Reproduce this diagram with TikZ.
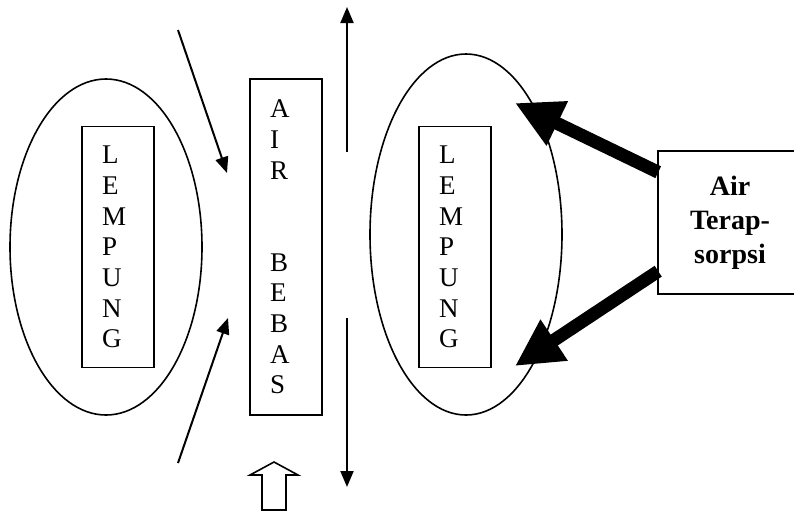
\documentclass[tikz,border=0pt]{standalone}
\usepackage{fontspec}
\setmainfont{Liberation Serif}
\usetikzlibrary{arrows.meta,shapes.geometric,calc}
\begin{document}
\begin{tikzpicture}[x=1pt,y=-1pt,
  oval/.style={draw, line width=1.6pt, ellipse, inner sep=0pt},
  letterbox/.style={draw, line width=1.6pt, minimum width=72pt, minimum height=241pt, inner sep=0pt, text width=32pt, align=left, font=\fontsize{27}{30.7}\selectfont},
  thinarrow/.style={line width=2pt, -{Triangle[length=16pt,width=13pt]}},
  thickarrow/.style={line width=13pt, -{Triangle[length=47pt,width=46pt]}},
]
\useasboundingbox (0,0) rectangle (794,515);
% left clay
\node[oval, minimum width=192pt, minimum height=336pt] (lov) at (106,247) {};
\node[letterbox] (lbox) at (118,247) {L\\E\\M\\P\\U\\N\\G};
% free water
\node[letterbox, minimum height=336pt] (fbox) at (286,247) {A\\I\\R\\[61.4pt]B\\E\\B\\A\\S};
% right clay
\node[oval, minimum width=192pt, minimum height=361pt] (rov) at (466,234.5) {};
\node[letterbox] (rbox) at (455,247) {L\\E\\M\\P\\U\\N\\G};
% adsorbed water
\node[draw, line width=1.6pt, minimum width=144pt, minimum height=143pt, inner sep=0pt, align=center, font=\fontsize{28}{34}\selectfont\bfseries] (abox) at (730,222.5) {Air\\Terap-\\sorpsi};
% thin arrows
\coordinate (a1s) at (178,30);  \coordinate (a1e) at (227,173);
\coordinate (a2s) at (178,463); \coordinate (a2e) at (228,318);
\draw[thinarrow] (a1s) -- (a1e);
\draw[thinarrow] (a2s) -- (a2e);
\coordinate (v1s) at (347,152); \coordinate (v1e) at (347,7);
\coordinate (v2s) at (347,318); \coordinate (v2e) at (347,487);
\draw[thinarrow] (v1s) -- (v1e);
\draw[thinarrow] (v2s) -- (v2e);
% thick arrows
\coordinate (t1) at (515,103);
\coordinate (t2) at (515,366);
\draw[thickarrow] ($(abox.north west)+(1,22)$) -- (t1);
\draw[thickarrow] ($(abox.north west)+(1,121)$) -- (t2);
% hollow up arrow
\draw[line width=1.6pt, line join=miter] (262,510) -- (262,475) -- (250,475) -- (274,462) -- (298,475) -- (286,475) -- (286,510) -- cycle;
\end{tikzpicture}
\end{document}
